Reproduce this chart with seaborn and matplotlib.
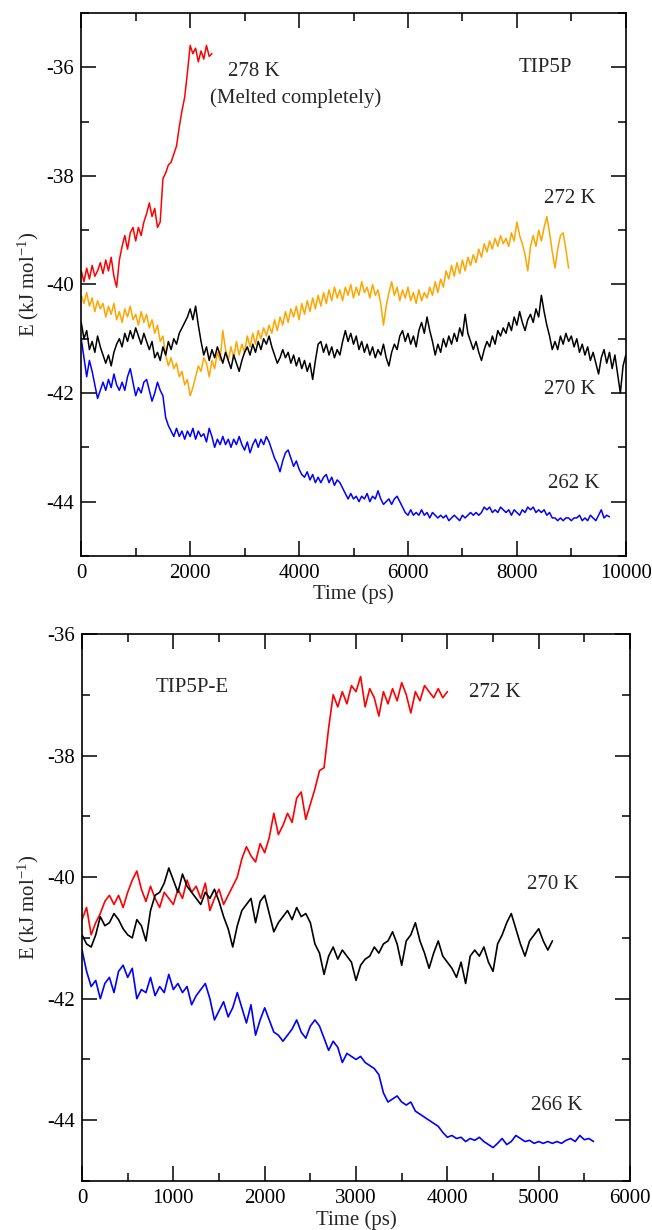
import numpy as np
import pandas as pd
import matplotlib
matplotlib.use("Agg")
import matplotlib.pyplot as plt
from matplotlib.ticker import MultipleLocator
import seaborn as sns

# ---------------- data (energies in kJ/mol, sampled every 50 ps) ----------------
STEP = 50

# Top panel: TIP5P
tip5p_278 = [-39.75, -39.95, -39.70, -39.90, -39.65, -39.85, -39.75, -39.60, -39.80, -39.55,
             -39.75, -39.50, -39.85, -40.05, -39.55, -39.30, -39.10, -39.35, -39.05, -38.95,
             -39.20, -38.95, -39.10, -38.85, -38.70, -38.50, -38.75, -38.60, -38.95, -38.85,
             -38.05, -37.95, -37.80, -37.75, -37.60, -37.45, -37.10, -36.80, -36.55, -36.10,
             -35.60, -35.75, -35.65, -35.90, -35.70, -35.85, -35.60, -35.80, -35.75]

tip5p_272 = [-40.20, -40.35, -40.15, -40.40, -40.25, -40.50, -40.30, -40.45, -40.35, -40.60,
             -40.40, -40.55, -40.35, -40.65, -40.50, -40.70, -40.45, -40.60, -40.40, -40.65,
             -40.55, -40.75, -40.50, -40.70, -40.55, -40.80, -40.65, -40.90, -40.75, -41.05,
             -40.95, -41.30, -41.50, -41.35, -41.55, -41.45, -41.70, -41.60, -41.85, -41.75,
             -42.05, -41.90, -41.70, -41.50, -41.60, -41.35, -41.45, -41.70, -41.40, -41.55,
             -41.25, -41.40, -40.85, -41.20, -41.40, -41.15, -41.35, -41.05, -41.30, -41.10,
             -41.25, -40.95, -41.15, -40.90, -41.10, -40.85, -41.00, -40.80, -40.95, -40.75,
             -40.90, -40.65, -40.85, -40.60, -40.75, -40.50, -40.70, -40.45, -40.60, -40.40,
             -40.65, -40.35, -40.55, -40.30, -40.50, -40.25, -40.45, -40.20, -40.40, -40.15,
             -40.35, -40.10, -40.30, -40.05, -40.25, -40.10, -40.30, -40.05, -40.20, -40.00,
             -40.25, -40.05, -40.20, -39.95, -40.15, -40.05, -40.25, -40.00, -40.20, -40.10,
             -40.35, -40.75, -40.40, -40.15, -39.95, -40.20, -40.05, -40.30, -40.10, -40.25,
             -40.05, -40.30, -40.15, -40.35, -40.10, -40.30, -40.15, -40.25, -40.05, -40.20,
             -39.95, -40.15, -39.90, -40.05, -39.75, -39.90, -39.65, -39.85, -39.60, -39.80,
             -39.55, -39.75, -39.50, -39.65, -39.45, -39.60, -39.35, -39.50, -39.25, -39.40,
             -39.20, -39.35, -39.15, -39.30, -39.10, -39.25, -39.15, -39.30, -39.05, -39.20,
             -38.85, -39.10, -39.25, -39.45, -39.75, -39.30, -39.10, -39.30, -39.00, -39.20,
             -38.95, -38.75, -39.05, -39.40, -39.70, -39.35, -39.10, -39.05, -39.35, -39.70]

tip5p_270 = [-40.70, -41.00, -40.85, -41.20, -41.05, -41.25, -40.95, -41.15, -41.30, -41.45,
             -41.30, -41.50, -41.25, -41.10, -41.00, -41.15, -40.90, -41.05, -40.85, -41.00,
             -40.80, -40.95, -41.10, -40.90, -41.05, -41.20, -41.05, -41.35, -41.25, -41.40,
             -41.15, -41.30, -41.05, -41.20, -41.00, -41.10, -40.90, -40.80, -40.70, -40.60,
             -40.45, -40.65, -40.40, -40.75, -41.05, -41.30, -41.15, -41.40, -41.20, -41.35,
             -41.15, -41.30, -41.45, -41.25, -41.40, -41.55, -41.30, -41.45, -41.60, -41.40,
             -41.25, -41.15, -41.30, -41.10, -41.25, -41.05, -41.20, -41.00, -41.10, -40.95,
             -41.15, -41.30, -41.45, -41.35, -41.20, -41.35, -41.25, -41.45, -41.30, -41.50,
             -41.35, -41.55, -41.40, -41.60, -41.45, -41.75, -41.40, -41.10, -41.05, -41.25,
             -41.10, -41.30, -41.15, -41.35, -41.20, -41.30, -41.05, -40.85, -41.05, -40.90,
             -41.10, -40.95, -41.20, -41.05, -41.25, -41.10, -41.30, -41.15, -41.35, -41.20,
             -41.30, -41.10, -41.35, -41.50, -41.25, -41.10, -41.20, -40.95, -40.85, -41.05,
             -40.90, -41.10, -40.95, -41.15, -40.85, -40.70, -40.90, -40.60, -40.85, -41.05,
             -41.30, -41.10, -41.25, -41.00, -41.15, -40.95, -41.10, -40.90, -41.05, -40.80,
             -40.95, -40.55, -40.90, -41.05, -41.20, -41.05, -41.25, -41.40, -41.20, -41.05,
             -41.15, -40.95, -41.10, -40.85, -40.95, -40.80, -40.90, -40.70, -40.85, -40.60,
             -40.75, -40.50, -40.70, -40.85, -40.65, -40.55, -40.70, -40.45, -40.60, -40.20,
             -40.50, -40.75, -40.95, -41.20, -41.05, -41.20, -40.95, -41.10, -40.90, -41.05,
             -40.95, -41.15, -41.00, -41.25, -41.10, -41.30, -41.15, -41.40, -41.25, -41.45,
             -41.65, -41.35, -41.20, -41.45, -41.25, -41.55, -41.30, -41.65, -42.00, -41.50,
             -41.30]

tip5p_262 = [-41.00, -41.35, -41.70, -41.40, -41.60, -41.85, -42.10, -41.95, -41.80, -41.95,
             -41.75, -41.90, -41.65, -41.85, -41.95, -41.80, -41.95, -41.70, -41.55, -41.80,
             -42.05, -41.90, -42.00, -41.80, -41.75, -41.95, -42.15, -42.00, -41.80, -41.95,
             -42.05, -42.45, -42.60, -42.70, -42.80, -42.65, -42.80, -42.70, -42.85, -42.70,
             -42.80, -42.65, -42.85, -42.70, -42.80, -42.75, -42.90, -42.65, -42.80, -43.00,
             -42.85, -42.95, -42.80, -42.95, -42.85, -43.00, -42.85, -42.95, -42.80, -42.95,
             -43.05, -42.90, -43.10, -42.95, -42.85, -43.00, -42.85, -42.95, -42.80, -42.90,
             -43.05, -43.20, -43.30, -43.45, -43.25, -43.10, -43.05, -43.20, -43.35, -43.25,
             -43.40, -43.50, -43.55, -43.45, -43.60, -43.50, -43.65, -43.55, -43.65, -43.55,
             -43.50, -43.65, -43.55, -43.70, -43.60, -43.65, -43.75, -43.85, -43.95, -43.85,
             -43.95, -43.90, -44.00, -43.90, -43.95, -43.85, -44.00, -43.90, -43.95, -43.80,
             -43.95, -44.05, -44.00, -43.95, -44.05, -43.95, -43.90, -44.00, -44.10, -44.20,
             -44.25, -44.15, -44.25, -44.20, -44.25, -44.15, -44.25, -44.20, -44.30, -44.20,
             -44.25, -44.30, -44.25, -44.30, -44.25, -44.35, -44.30, -44.25, -44.30, -44.35,
             -44.25, -44.30, -44.25, -44.20, -44.25, -44.20, -44.25, -44.20, -44.10, -44.15,
             -44.10, -44.20, -44.15, -44.20, -44.10, -44.15, -44.20, -44.15, -44.25, -44.15,
             -44.20, -44.25, -44.15, -44.20, -44.10, -44.15, -44.10, -44.20, -44.15, -44.20,
             -44.15, -44.25, -44.20, -44.30, -44.30, -44.35, -44.30, -44.35, -44.30, -44.30,
             -44.35, -44.30, -44.30, -44.25, -44.35, -44.30, -44.35, -44.25, -44.30, -44.35,
             -44.25, -44.15, -44.30, -44.25, -44.28]

# Bottom panel: TIP5P-E
tip5pe_272 = [-40.70, -40.50, -40.95, -40.75, -40.60, -40.40, -40.30, -40.45, -40.30, -40.50,
              -40.25, -40.05, -39.90, -40.20, -40.40, -40.15, -40.35, -40.50, -40.25, -40.35,
              -40.45, -40.20, -40.35, -40.05, -40.25, -40.15, -40.35, -40.10, -40.55, -40.35,
              -40.20, -40.45, -40.30, -40.15, -40.00, -39.70, -39.50, -39.65, -39.75, -39.45,
              -39.60, -39.35, -38.95, -39.30, -39.15, -38.95, -39.10, -38.70, -38.60, -39.05,
              -38.80, -38.55, -38.25, -38.20, -37.55, -37.00, -37.20, -36.95, -37.15, -36.85,
              -36.95, -36.70, -37.20, -36.90, -37.05, -37.35, -36.95, -37.15, -36.90, -37.10,
              -36.80, -37.00, -37.30, -36.95, -37.10, -36.85, -36.95, -37.05, -36.90, -37.05,
              -36.95]

tip5pe_270 = [-40.95, -41.10, -41.15, -40.95, -40.65, -40.80, -40.75, -40.60, -40.70, -40.85,
              -40.95, -41.00, -40.70, -40.80, -41.05, -40.55, -40.30, -40.25, -40.10, -39.85,
              -40.05, -40.25, -39.95, -40.15, -40.25, -40.35, -40.45, -40.25, -40.35, -40.20,
              -40.40, -40.65, -40.85, -41.15, -40.80, -40.55, -40.45, -40.35, -40.75, -40.40,
              -40.30, -40.60, -40.90, -40.75, -40.65, -40.55, -40.70, -40.50, -40.65, -40.60,
              -40.75, -41.10, -41.25, -41.60, -41.30, -41.15, -41.35, -41.20, -41.30, -41.40,
              -41.70, -41.45, -41.35, -41.30, -41.15, -41.25, -41.10, -41.05, -40.90, -41.10,
              -41.45, -41.05, -40.95, -40.75, -41.05, -41.25, -41.50, -41.25, -41.05, -41.30,
              -41.40, -41.50, -41.65, -41.40, -41.75, -41.30, -41.20, -41.30, -41.15, -41.40,
              -41.55, -41.10, -40.95, -40.75, -40.60, -40.85, -41.10, -41.30, -41.05, -40.95,
              -40.85, -41.05, -41.20, -41.05]

tip5pe_266 = [-41.20, -41.55, -41.80, -41.70, -42.00, -41.75, -41.65, -41.90, -41.55, -41.45,
              -41.65, -41.50, -42.00, -41.85, -41.90, -41.65, -41.95, -41.80, -41.90, -41.60,
              -41.85, -41.75, -41.90, -41.80, -42.10, -41.95, -41.85, -41.75, -42.00, -42.35,
              -42.20, -42.05, -42.30, -42.15, -41.90, -42.15, -42.40, -42.10, -42.60, -42.35,
              -42.15, -42.35, -42.55, -42.60, -42.70, -42.60, -42.50, -42.35, -42.55, -42.65,
              -42.45, -42.35, -42.45, -42.65, -42.85, -42.70, -42.80, -43.05, -42.90, -42.95,
              -43.00, -42.95, -43.05, -43.10, -43.15, -43.25, -43.55, -43.70, -43.65, -43.60,
              -43.70, -43.75, -43.70, -43.85, -43.90, -43.95, -44.00, -44.05, -44.10, -44.20,
              -44.28, -44.25, -44.30, -44.28, -44.35, -44.30, -44.33, -44.28, -44.35, -44.40,
              -44.45, -44.38, -44.30, -44.40, -44.35, -44.25, -44.30, -44.35, -44.33, -44.38,
              -44.35, -44.38, -44.35, -44.38, -44.35, -44.38, -44.33, -44.30, -44.35, -44.25,
              -44.32, -44.30, -44.35]

top_series = [("278 K", tip5p_278, "#FF0000"),
              ("272 K", tip5p_272, "#FFA500"),
              ("270 K", tip5p_270, "#000000"),
              ("262 K", tip5p_262, "#0000FF")]
bottom_series = [("272 K", tip5pe_272, "#FF0000"),
                 ("270 K", tip5pe_270, "#000000"),
                 ("266 K", tip5pe_266, "#0000FF")]

# ---------------- style ----------------
sns.set_style("white")
plt.rcParams["font.family"] = ["Liberation Serif", "DejaVu Serif"]
plt.rcParams["mathtext.fontset"] = "custom"
plt.rcParams["mathtext.rm"] = "Liberation Serif"
plt.rcParams["mathtext.it"] = "Liberation Serif:italic"
plt.rcParams["axes.unicode_minus"] = False

FS = 15
fig = plt.figure(figsize=(6.52, 12.30), dpi=100)
ax1 = fig.add_axes([0.1246, 0.5480, 0.8352, 0.4415])
ax2 = fig.add_axes([0.1258, 0.0398, 0.8405, 0.4448])


def make_df(vals):
    return pd.DataFrame({"t": np.arange(len(vals)) * STEP, "E": vals})


for name, vals, col in top_series:
    sns.lineplot(data=make_df(vals), x="t", y="E", color=col, linewidth=1.1,
                 estimator=None, ax=ax1)
for name, vals, col in bottom_series:
    sns.lineplot(data=make_df(vals), x="t", y="E", color=col, linewidth=1.2,
                 estimator=None, ax=ax2)


def style(ax, xmax, xmaj, xmin, ymin, ymax):
    ax.set_xlim(0, xmax)
    ax.set_ylim(ymin, ymax)
    ax.xaxis.set_major_locator(MultipleLocator(xmaj))
    ax.xaxis.set_minor_locator(MultipleLocator(xmin))
    ax.yaxis.set_major_locator(MultipleLocator(2))
    ax.yaxis.set_minor_locator(MultipleLocator(1))
    ax.tick_params(which="both", direction="in", top=True, right=True,
                   bottom=True, left=True, width=1.1, colors="black")
    ax.tick_params(which="major", length=11, labelsize=FS)
    ax.tick_params(which="minor", length=6)
    ax.tick_params(axis="x", which="major", pad=6)
    ax.tick_params(axis="y", which="major", pad=5)
    for s in ax.spines.values():
        s.set_linewidth(1.2)
        s.set_color("black")
    ax.set_xlabel("Time (ps)", fontsize=FS, labelpad=1)
    ax.set_ylabel(r"E (kJ mol$^{\mathrm{-1}}$)", fontsize=FS)
    ax.yaxis.set_label_coords(-0.074, 0.5)
    ax.grid(False)


style(ax1, 10000, 2000, 1000, -45, -35)
style(ax2, 6000, 1000, 500, -45, -36)

# annotations
ax1.text(2700, -36.07, "278 K", fontsize=FS, va="center", ha="left")
ax1.text(2360, -36.57, "(Melted completely)", fontsize=FS, va="center", ha="left")
ax1.text(8040, -36.0, "TIP5P", fontsize=FS, va="center", ha="left")
ax1.text(8500, -38.41, "272 K", fontsize=FS, va="center", ha="left")
ax1.text(8500, -41.94, "270 K", fontsize=FS, va="center", ha="left")
ax1.text(8575, -43.67, "262 K", fontsize=FS, va="center", ha="left")

ax2.text(805, -36.88, "TIP5P-E", fontsize=FS, va="center", ha="left")
ax2.text(4235, -36.97, "272 K", fontsize=FS, va="center", ha="left")
ax2.text(4875, -40.12, "270 K", fontsize=FS, va="center", ha="left")
ax2.text(4917, -43.76, "266 K", fontsize=FS, va="center", ha="left")

fig.savefig("out.png", dpi=100)
